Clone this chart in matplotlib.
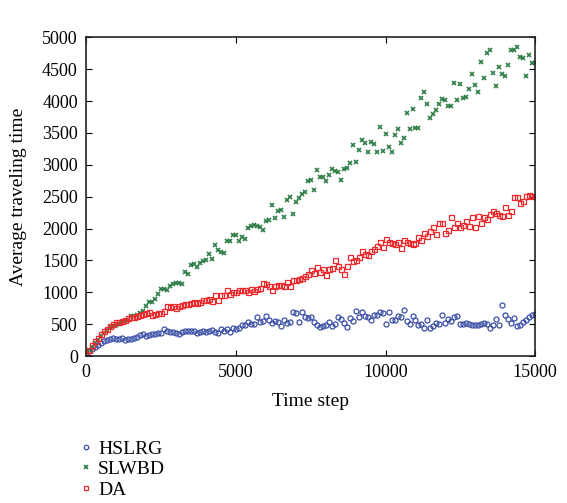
import matplotlib.pyplot as plt
import numpy as np

plt.rcParams['font.family'] = ['Liberation Serif', 'DejaVu Serif']

time_step = np.arange(0, 15001, 100)

hslrg = [50, 80, 115, 150, 175, 200, 230, 250, 265, 280,
         270, 265, 285, 260, 275, 265, 285, 300, 330, 340,
         320, 330, 350, 340, 365, 370, 430, 400, 380, 385,
         370, 350, 380, 395, 400, 390, 395, 360, 380, 390,
         375, 400, 410, 380, 370, 425, 400, 430, 380, 445,
         432, 448, 484, 495, 536, 510, 510, 615, 536, 547,
         625, 573, 520, 547, 536, 468, 562, 520, 536, 693,
         677, 536, 693, 615, 599, 615, 536, 495, 458, 468,
         495, 536, 468, 510, 615, 589, 520, 458, 599, 547,
         709, 615, 693, 625, 615, 573, 641, 641, 693, 680,
         510, 693, 573, 573, 625, 615, 729, 552, 510, 625,
         573, 484, 510, 448, 562, 448, 468, 526, 500, 641,
         526, 589, 547, 615, 630, 510, 500, 526, 500, 484,
         484, 484, 510, 520, 510, 448, 484, 589, 484, 797,
         641, 578, 526, 604, 474, 484, 536, 573, 615, 641,
         656]

slwbd = [40, 90, 150, 200, 260, 310, 360, 406, 458, 470,
         484, 510, 536, 555, 573, 625, 630, 641, 677, 700,
         781, 849, 849, 901, 969, 1057, 1057, 1042, 1100, 1135,
         1151, 1151, 1135, 1318, 1292, 1432, 1448, 1396, 1464, 1490,
         1500, 1604, 1516, 1750, 1667, 1640, 1615, 1802, 1812, 1906,
         1901, 1812, 1865, 1839, 2010, 2047, 2062, 2047, 2021, 1979,
         2125, 2135, 2375, 2167, 2271, 2292, 2188, 2453, 2500, 2224,
         2422, 2479, 2542, 2568, 2740, 2766, 2604, 2917, 2813, 2802,
         2740, 2844, 2927, 2896, 2880, 2760, 2932, 2948, 3021, 3313,
         3037, 3229, 3385, 3338, 3208, 3365, 3333, 3208, 3594, 3219,
         3479, 3271, 3208, 3469, 3568, 3349, 3417, 3807, 3568, 3875,
         3583, 3583, 4042, 4146, 3958, 3729, 3792, 3859, 3948, 4026,
         4010, 3927, 3927, 4276, 4010, 4266, 4052, 4063, 4182, 4417,
         4245, 4146, 4615, 4354, 4760, 4797, 4438, 4229, 4531, 4427,
         4396, 4557, 4807, 4807, 4844, 4688, 4667, 4385, 4714, 4589,
         4589]

da = [40, 100, 170, 230, 290, 340, 400, 430, 480, 500,
      530, 540, 555, 570, 590, 610, 620, 630, 645, 660,
      670, 690, 645, 660, 670, 680, 700, 790, 770, 780,
      760, 790, 795, 810, 820, 830, 850, 840, 855, 880,
      875, 900, 870, 953, 875, 953, 960, 1042, 970, 1005,
      1005, 1031, 1042, 1031, 1005, 1057, 1021, 1057, 1073, 1146,
      1125, 1094, 1031, 1099, 1109, 1120, 1099, 1161, 1094, 1187,
      1187, 1213, 1224, 1255, 1281, 1344, 1302, 1396, 1318, 1370,
      1266, 1370, 1380, 1510, 1411, 1359, 1292, 1411, 1552, 1484,
      1510, 1552, 1656, 1604, 1588, 1656, 1682, 1734, 1786, 1718,
      1839, 1797, 1771, 1760, 1797, 1693, 1813, 1786, 1771, 1760,
      1776, 1875, 1813, 1927, 1891, 1969, 2031, 1917, 2083, 2083,
      1927, 1979, 2177, 2021, 2083, 2021, 2057, 2115, 2047, 2177,
      2031, 2203, 2083, 2177, 2151, 2229, 2271, 2245, 2219, 2203,
      2333, 2219, 2271, 2490, 2500, 2396, 2438, 2516, 2531, 2505,
      2505]

fig = plt.figure(figsize=(5.67, 5.03), dpi=100)
ax = fig.add_axes([0.152, 0.292, 0.792, 0.634])

ax.plot(time_step, hslrg, 'o', ls='none', ms=3.6, mfc='none', mec='#3a4ea6', mew=0.9, label='HSLRG')
ax.plot(time_step, slwbd, 'x', ls='none', ms=3, mec='#2e7d46', mew=1.2, label='SLWBD')
ax.plot(time_step, da, 's', ls='none', ms=3.6, mfc='none', mec='#ec2a2e', mew=0.9, label='DA')

ax.set_xlim(0, 15000)
ax.set_ylim(0, 5000)
ax.set_xticks([0, 5000, 10000, 15000])
ax.set_yticks(np.arange(0, 5001, 500))
ax.tick_params(direction='in', top=True, right=True, labelsize=13, length=4, pad=6)
for s in ax.spines.values():
    s.set_linewidth(1.2)
    s.set_color('#222222')

ax.set_xlabel('Time step', fontsize=14, labelpad=8)
ax.set_ylabel('Average traveling time', fontsize=14, labelpad=11)

fig.legend(loc='upper left', bbox_to_anchor=(0.113, 0.16), frameon=False,
           fontsize=14, handlelength=0.5, handletextpad=0.35, labelspacing=0.15,
           markerscale=0.9)

fig.savefig('out.png', dpi=100)
